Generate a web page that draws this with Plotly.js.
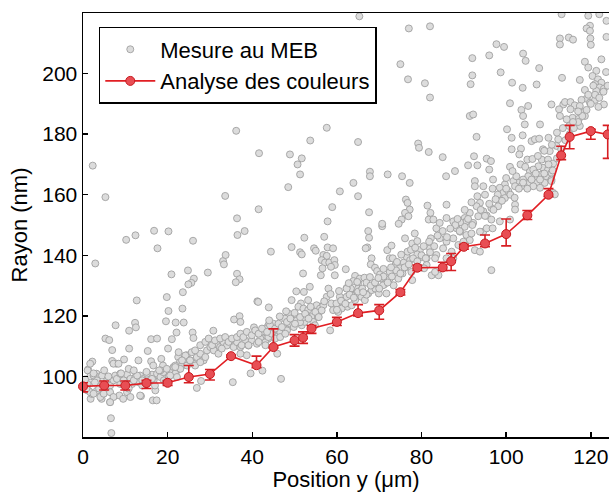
<!DOCTYPE html>
<html>
<head>
<meta charset="utf-8">
<script src="https://cdn.plot.ly/plotly-3.0.1.min.js"></script>
<style>html,body{margin:0;padding:0;background:#fff;}#chart{width:609px;height:492px;}</style>
</head>
<body>
<div id="chart"></div>
<script>
// Red series: colour analysis (position, radius, asymmetric errors)
const colX = [0,5,10,15,20,25,30,35,41,45,50,52,54,60,65,70,75,79,85,87,90,95,100,105,110,113,115,120,124];
const colY = [96.7,97,97,97.8,97.9,99.8,100.8,106.7,103.7,109.7,111.9,112.8,115.8,118,120.9,121.8,127.8,135.9,136,138,142.8,143.9,147,153.2,160,173,179.1,181,179.9];
const colErrPlus = [1.2,1.5,1.5,0.9,0.6,3.8,1.5,0.4,3.0,6.0,1.9,1.9,1.0,1.5,2.8,1.9,0.9,0.9,1.7,2.6,0.8,2.8,5.0,1.6,2.0,3.0,3.8,0.6,3.0];
const colErrMinus = [1.8,1.5,1.5,1.8,0.9,1.9,2.0,0.4,0.8,0.3,1.9,1.9,1.6,1.2,0.9,2.9,0.9,0.9,1.0,3.0,0.8,1.1,3.9,1.4,0.6,1.4,3.9,2.7,7.9];

// Grey series: SEM measurements [position, radius]
const mebPoints = [
[16.8,148.1],[20.2,147.9],[10.2,145.1],[12.4,146.6],[17.6,142.3],[26.0,144.8],[36.5,146.7],[38.2,148.0],[2.9,137.3],[33.1,138.1],[33.7,140.1],[33.3,137.0],[20.9,133.7],[29.5,134.3],[24.8,135.0],[26.2,132.3],[25.6,130.9],[24.9,130.4],[36.4,133.9],[37.0,132.1],[36.1,131.1],[12.7,125.1],[19.8,126.2],[23.6,127.8],[23.5,122.4],[20.2,121.6],[41.2,124.8],[7.7,116.9],[12.3,117.7],[12.5,116.2],[10.9,115.1],[19.6,118.2],[21.9,117.8],[23.8,117.8],[22.1,114.5],[25.9,114.5],[26.1,112.7],[30.8,115.1],[35.7,118.8],[37.0,119.9],[37.2,118.0],[40.4,116.2],[5.3,112.5],[6.2,112.0],[6.9,108.7],[10.9,109.2],[16.1,112.3],[17.5,112.5],[21.0,112.3],[15.3,108.4],[20.1,109.2],[2.2,104.9],[6.9,105.1],[7.9,104.2],[9.7,105.6],[13.1,105.3],[16.1,105.0],[16.6,103.6],[18.5,105.8],[18.9,103.6],[22.5,106.4],[22.9,104.7],[24.5,107.0],[1.2,102.3],[3.2,100.9],[6.5,99.2],[7.5,99.4],[1.0,95.4],[1.8,92.6],[4.8,94.3],[4.4,92.6],[6.4,91.5],[8.6,93.7],[9.5,92.6],[13.7,93.5],[16.5,92.1],[17.4,92.1],[6.6,86.2],[6.7,81.3],[35.4,98.1],[26.9,96.2],[39.6,101.0],[27.9,98.5],
[2.3,169.6],[5.3,159.2],[36.2,181.1],[41.6,173.7],[33.6,159.6],[36.4,152.2],[41.5,155.2],
[44.4,141.2],[49.3,142.7],[52.3,145.8],[51.3,141.0],[51.7,140.3],[54.6,142.3],[55.0,141.5],[57.8,142.6],[59.1,142.3],[57.0,146.1],[56.8,140.1],[57.6,139.8],[56.4,138.4],[57.2,137.6],[58.2,137.6],[59.4,138.4],[59.5,136.8],[56.6,135.7],[56.2,133.4],[58.6,136.2],[59.5,133.4],[62.1,135.4],[52.0,134.0],[67.4,148.0],[67.6,145.8],[67.2,142.6],[66.8,142.3],[70.7,149.6],
[68.2,139.0],[68.0,137.0],[69.0,135.9],[69.5,134.8],[70.2,133.7],[70.6,132.3],[71.7,131.8],[72.5,132.3],[71.2,130.4],[64.3,133.2],[65.4,132.3],[66.5,132.6],[67.0,131.0],[65.0,130.7],[63.9,131.5],[63.3,129.0],[65.0,129.0],[65.8,128.5],[62.3,129.2],
[71.9,141.7],[72.9,143.2],[72.5,139.0],[73.2,139.0],[73.9,137.0],[75.8,137.6],[74.9,135.7],[76.1,135.9],[75.5,134.0],[73.7,133.4],[72.5,134.5],[74.5,132.3],[73.4,130.1],[76.5,139.5],[76.7,141.2],
[76.1,145.6],[77.8,143.9],[78.4,147.2],[79.0,144.7],[79.6,141.7],[79.0,140.3],[80.2,139.4],[81.2,139.0],[82.2,145.6],[82.0,142.3],[81.2,136.8],[80.6,135.7],[77.6,134.5],[77.8,131.8],[77.3,138.4],[82.4,133.4],
[58.4,115.2],[46.8,99.2],[42.4,101.9],[45.9,107.5],[43.9,122.8],[41.4,124.6],
[53.6,129.6],[52.2,127.9],[50.4,128.1],[51.5,124.1],[50.9,123.0],[52.1,122.4],[53.2,121.9],[52.8,120.2],[54.0,119.6],[55.2,123.5],[56.0,122.4],[55.6,120.4],[54.4,118.0],[49.3,125.2],[53.2,125.2],[48.5,120.8],[47.7,119.1],[49.3,118.5],[50.5,119.6],[46.1,116.9],[45.0,117.4],[43.8,116.9],[45.4,115.8],[43.0,115.8],[42.2,114.7],[42.6,112.5],[43.8,112.5],[46.1,113.6],[47.3,114.7],[48.5,116.3],[51.7,116.9],[52.4,118.0],[54.8,116.9],[55.6,119.6],[56.8,123.5],[57.6,126.3],[58.0,129.0],[58.7,124.1],[59.9,124.1],[60.7,126.3],[61.5,124.6],[62.3,126.3],[62.5,123.0],[63.5,123.5],[64.3,125.2],[64.6,127.4],[65.8,126.3],[66.6,125.2],[61.1,122.4],[60.3,121.3],[59.1,121.9],[62.3,129.0],[63.5,126.8],[67.4,127.4],[68.2,128.5],[69.1,129.0],[69.9,127.4],[70.9,130.1],[71.7,127.4],[69.0,130.7],
[65.3,218.9],[77.0,214.9],[82.0,215.6],[75.0,203.1],[76.8,198.1],[80.8,196.8],[82.0,192.1],[52.2,191.3],[57.6,182.1],[53.7,177.9],[65.0,177.4],[79.2,176.9],[79.4,175.5],[81.7,174.1],[48.9,173.3],[51.7,172.0],[50.7,170.0],[51.3,166.7],[67.8,167.6],[67.8,166.1],[72.0,166.7],[75.4,166.1],[77.2,163.9],[63.9,163.9],[65.0,159.5],[60.7,161.1],[48.5,162.5],[58.9,155.9],[67.6,154.2],[57.8,151.2],[76.3,158.4],[76.7,157.3],[77.2,155.1],[76.1,154.0],[76.9,152.9],[75.3,151.8],[74.6,150.4],[81.4,156.4],[82.1,154.0],[81.7,151.8],[70.7,150.4],
[113.1,219.6],[119.4,219.1],[122.0,219.6],[123.7,217.4],[119.8,215.8],[119.0,214.9],[119.8,214.1],[119.9,211.6],[120.0,209.5],[112.7,211.6],[112.7,209.6],[114.8,211.9],[115.8,211.2],[123.7,212.1],[97.7,209.7],[99.5,208.8],[92.0,205.1],[96.0,206.0],[104.0,206.6],[104.6,204.2],[107.8,201.8],[98.7,200.4],[92.0,199.4],[91.6,196.5],[101.4,197.0],[103.9,195.3],[107.2,196.4],[113.2,198.6],[117.4,197.9],
[118.6,203.9],[119.4,202.0],[121.3,200.9],[120.4,199.2],[121.7,198.1],[122.5,197.0],[121.0,196.5],[122.1,195.4],[121.3,194.3],[123.1,195.0],[118.6,194.6],[119.0,191.7],[117.8,191.3],[119.8,190.4],[121.0,191.3],[123.1,189.8],[122.5,204.7],
[100.9,190.2],[105.2,189.3],[103.6,188.0],[104.0,186.0],[104.4,183.2],[110.7,189.8],[113.5,189.8],[112.5,188.2],[113.9,190.6],[115.2,190.6],[116.2,189.5],[117.4,189.3],[118.0,187.1],[115.2,188.2],[115.7,185.4],[117.2,185.1],[118.6,186.0],[112.7,186.0],[114.3,184.9],[114.9,182.7],[117.4,182.7],
[91.4,186.0],[92.2,186.5],[93.0,179.1],[100.2,181.6],[101.3,178.8],[101.3,175.0],[103.9,179.6],[106.0,177.7],[106.8,178.3],[108.0,183.2],[107.8,178.5],[110.0,178.8],
[85.0,172.4],[92.4,172.7],[95.4,171.9],[96.4,171.1],[91.0,169.7],[93.2,169.7],[96.0,168.3],[100.9,169.2],[85.8,166.1],[87.9,167.8],
[103.5,175.2],[103.1,173.3],[105.0,171.6],[103.4,170.0],[105.6,167.8],[108.7,175.0],[110.3,174.4],[108.4,171.6],[109.9,171.6],[111.1,170.3],[111.9,176.1],[112.3,178.3],
[108.7,168.9],[109.9,168.3],[107.6,169.4],[106.4,168.3],[105.2,166.1],[104.0,165.0],[102.8,163.9],[101.7,164.5],[107.2,166.1],[108.4,166.7],[109.5,166.1],[110.7,167.2],[102.4,166.1],[105.6,163.9],[107.2,163.9],[109.1,163.9],[110.7,165.0],[108.0,162.3],[106.4,162.8],[103.6,162.8],[102.1,162.8],[99.7,163.4],[98.5,162.3],[99.3,160.6],[100.5,161.2],[99.7,158.9],[96.9,165.0],[94.6,162.8],[92.6,164.5],[92.6,162.8],[98.5,157.8],[98.1,156.2],[96.5,155.6],[93.8,157.3],[93.0,156.2],[94.6,154.5],[95.4,153.1],[93.4,152.9],[91.4,154.0],[90.2,152.3],[90.6,151.2],[85.9,156.7],[85.9,152.3],[87.5,151.2],[102.1,156.7],[102.1,155.1],[111.1,160.6],[111.5,160.1],[110.7,164.5],
[96.5,135.1],[83.5,148.9],[84.3,145.6],[85.9,144.5],[87.5,145.6],[89.1,147.8],[90.2,149.4],[90.6,146.7],[91.4,145.0],[92.6,141.7],[93.8,141.2],[94.6,147.8],[95.4,148.9],[96.8,148.9],[93.8,147.8],[88.3,148.9],[85.1,142.3],[83.5,140.1],[83.2,139.0],[84.0,133.4],[83.2,134.5],[87.1,141.2],[85.9,139.0],[87.5,139.0],[88.7,143.4],[89.9,144.5],[91.8,147.2],
[82.8,151.8],[84.3,150.7],[89.1,150.9],[92.2,150.7],[96.5,151.8],[98.5,151.2],[100.9,151.8],
[1.1,102.0],[1.7,100.0],[1.1,97.5],[1.3,95.3],[2.1,94.2],[3.3,95.3],[4.1,97.5],[3.3,99.8],[4.5,100.3],[5.7,98.7],[6.4,97.0],[7.2,98.7],[7.6,100.3],[8.4,99.2],[8.8,97.5],[10.0,98.7],[10.4,100.6],[11.2,99.2],[11.6,97.5],[12.4,99.8],[13.1,98.1],[13.5,100.3],[14.3,99.2],[15.5,99.8],[16.3,100.6],[16.7,98.7],[17.5,100.9],[18.3,99.8],[19.0,101.4],[20.2,99.8],[21.0,101.4],[21.4,103.1],[22.2,102.0],[23.4,103.6],[23.8,105.3],[24.6,103.6],[25.3,105.3],[26.1,104.2],[26.9,106.4],[27.7,107.5],[28.5,105.3],[29.3,108.6],[30.1,109.7],[30.9,108.6],[31.6,110.8],[32.4,109.7],[33.2,111.3],[34.0,110.2],[34.8,111.9],[35.6,109.7],[36.4,111.3],[37.2,109.7],[38.3,111.9],[39.1,110.2],[39.9,111.9],[41.1,110.8],[41.9,112.5],[43.1,111.3],[43.8,113.0],[44.6,114.1],[45.8,113.0],[46.6,114.7],[47.4,116.1],[48.2,115.2],[49.0,117.4],[49.8,116.3],[50.5,118.5],[51.3,117.9],[52.1,119.6],
[22.6,108.0],[24.2,106.9],[25.7,108.0],[26.5,108.6],[27.7,110.3],[28.9,111.4],[29.7,112.5],[30.5,110.3],[31.2,111.9],[32.4,112.5],[33.6,113.0],[34.4,111.4],[35.2,112.5],[36.4,113.0],[37.2,114.1],[37.9,113.0],[38.7,114.7],[39.9,113.6],[40.7,115.2],[41.5,114.1],[42.3,115.8],[43.5,114.7],[44.2,116.9],[45.4,115.8],[46.2,117.4],[47.0,116.3],[48.2,118.0],[49.0,119.1],[50.1,117.4],[51.3,119.6],[52.5,120.7],[53.3,119.1],[54.9,121.3],[55.7,119.6],[56.4,121.8],[23.4,105.3],[25.3,105.3],[26.5,103.6],[27.7,104.7],[28.9,106.4],[32.0,107.5],[32.8,109.2],[37.5,110.3],[38.7,107.0],[37.2,107.5],[39.1,110.3],[41.5,111.4],[43.1,110.3],[45.4,112.5],[46.6,113.0],[47.8,114.1],[21.8,103.6],[23.0,102.5],[21.8,100.9],
[1.7,104.2],[2.5,100.3],[3.3,98.7],[1.7,94.8],[2.5,94.3],[4.1,93.2],[4.9,94.3],[6.4,94.8],[7.2,93.2],[6.4,91.5],[8.0,99.2],[8.8,100.9],[9.6,98.7],[10.4,94.8],[11.2,93.2],[12.0,98.7],[12.8,100.3],[14.0,98.7],[13.5,93.7],[15.1,100.9],[16.3,99.2],[17.1,95.4],[18.3,102.0],[19.1,98.7],[19.8,102.5],[20.6,100.3],[21.8,103.1],[22.2,99.8],[7.2,104.2],[8.4,104.2],[10.8,102.5],
[0.5,99.0],[2.5,101.0],[3.8,96.0],[5.0,102.0],[6.0,100.0],[9.0,101.0],[10.8,96.0],[12.0,102.0],[14.0,97.0],[15.0,101.5],[17.0,97.0],[18.0,102.0],[19.5,98.0],[0.8,96.0],[2.8,98.0],
[60.0,122.0],[61.0,125.0],[62.0,124.0],[63.0,127.0],[64.0,126.0],[65.0,128.0],[66.0,129.0],[67.0,127.0],[68.0,130.0],[69.0,131.0],[70.0,129.0],[71.0,133.0],[72.0,131.0],[73.0,133.0],[74.0,135.0],[75.0,134.0],[76.0,136.0],[77.0,137.0],[78.0,139.0],[79.0,138.0],[80.0,140.0],[81.0,139.0],[82.0,141.0],[83.0,143.0],
[85.0,148.0],[86.0,146.0],[88.0,150.0],[89.0,148.0],[91.0,152.0],[92.0,150.0],[94.0,155.0],[95.0,153.0],[96.0,157.0],[97.0,155.0],[98.0,160.0],[99.0,158.0],[100.0,162.0],[101.0,160.0],[102.0,159.0],[103.0,162.0],[104.0,164.0],[105.0,162.0],[106.0,165.0],[107.0,167.0],[108.0,165.0],[109.0,167.0],[110.0,170.0],[111.0,168.0],[112.0,172.0],[113.0,175.0],[114.0,178.0],[115.0,180.0],[116.0,182.0],[117.0,184.0],[118.0,186.0],[119.0,188.0],[120.0,190.0],[121.0,193.0],[122.0,192.0],[123.0,194.0],[124.0,196.0],
[44.0,118.5],[46.5,119.8],[48.0,121.5],[50.0,121.0],[53.8,123.0],[57.0,124.8],[58.5,127.2],[60.5,128.2],[62.8,130.8],[64.8,131.2],[66.2,127.8],[67.8,132.8],[69.8,132.5],[71.0,135.5],[72.8,136.0],[74.2,137.8],[75.2,140.2],[77.5,141.8],[78.5,142.5],[80.5,143.0],[81.8,144.5],[83.8,146.5],[86.8,148.8],[88.5,152.0],[90.2,155.0],[91.8,157.5],[93.2,159.5],[95.0,160.0],[96.8,162.0],[97.5,158.5],[100.0,165.5],[101.5,167.8],[104.5,169.2],[106.2,171.8],[107.5,172.8],[109.0,174.5],[110.8,176.5],[112.0,180.5],[113.4,182.0],[115.8,184.0],[117.0,187.5],[119.4,193.0],[120.6,196.0],[121.8,189.0],[123.6,200.5]
];
const mebX = mebPoints.map(p => p[0]);
const mebY = mebPoints.map(p => p[1]);

const xTicks = [0,20,40,60,80,100,120];
const yTicks = [100,120,140,160,180,200];

const FONT = 'Liberation Sans, Arial, sans-serif';

const traces = [
  {
    type: 'scatter', mode: 'markers', name: 'Mesure au MEB',
    x: mebX, y: mebY,
    marker: {size: 7, color: 'rgb(220,220,220)', line: {color: 'rgb(160,160,160)', width: 0.9}}
  },
  {
    type: 'scatter', mode: 'lines+markers', name: 'Analyse des couleurs',
    x: colX, y: colY, cliponaxis: false,
    line: {color: 'rgb(225,30,35)', width: 1.6},
    marker: {size: 9, color: 'rgb(232,78,84)', line: {color: 'rgb(200,25,30)', width: 1}},
    error_y: {type: 'data', symmetric: false, array: colErrPlus, arrayminus: colErrMinus,
              color: 'rgb(215,30,35)', thickness: 1.6, width: 5}
  }
];

const layout = {
  width: 609, height: 492,
  margin: {l: 83, r: 0, t: 13, b: 55, pad: 0},
  paper_bgcolor: 'white', plot_bgcolor: 'white',
  font: {family: FONT, color: 'black', size: 21},
  showlegend: true,
  legend: {
    x: 0.03, y: 0.967, xanchor: 'left', yanchor: 'top',
    bgcolor: 'white', bordercolor: 'black', borderwidth: 1.5,
    itemwidth: 50, tracegroupgap: 0,
    font: {family: FONT, size: 22, color: 'black'}
  },
  xaxis: {
    range: [0, 124.3], tickmode: 'array', tickvals: xTicks,
    ticks: 'inside', ticklen: 5, tickwidth: 1.5, tickcolor: 'black',
    showline: true, linewidth: 1.5, linecolor: 'black', mirror: true,
    showgrid: false, zeroline: false,
    tickfont: {family: FONT, size: 21, color: 'black'},
    title: {text: 'Position y (μm)', font: {family: FONT, size: 22, color: 'black'}, standoff: 6}
  },
  yaxis: {
    range: [80, 220], tickmode: 'array', tickvals: yTicks,
    ticks: 'inside', ticklen: 5, tickwidth: 1.5, tickcolor: 'black',
    showline: true, linewidth: 1.5, linecolor: 'black', mirror: false,
    showgrid: false, zeroline: false,
    tickfont: {family: FONT, size: 21, color: 'black'},
    title: {text: 'Rayon (nm)', font: {family: FONT, size: 22, color: 'black'}, standoff: 8}
  }
};

Plotly.newPlot('chart', traces, layout, {displayModeBar: false, staticPlot: true});
</script>
</body>
</html>
